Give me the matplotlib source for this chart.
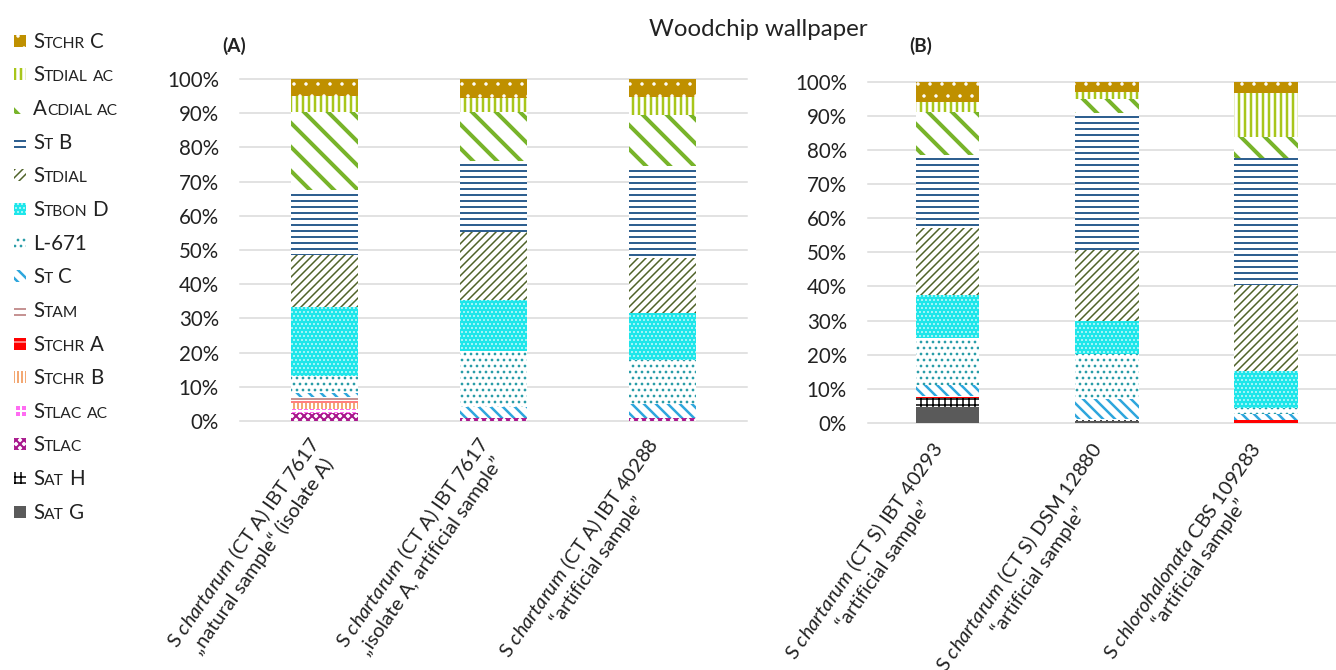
import numpy as np
import matplotlib
matplotlib.use('Agg')
import matplotlib.pyplot as plt
from matplotlib.patches import Rectangle

plt.rcParams['font.family'] = ['Lato', 'DejaVu Sans']
plt.rcParams['mathtext.fontset'] = 'custom'
plt.rcParams['mathtext.rm'] = 'Lato'
plt.rcParams['mathtext.it'] = 'Lato:italic'
plt.rcParams['text.color'] = '#222222'

################### data ##################
# stacking order, bottom to top
series = ['Sat G', 'Sat H', 'Stlac', 'Stlac ac', 'Stchr B', 'Stchr A', 'Stam',
          'St C', 'L-671', 'Stbon D', 'Stdial', 'St B', 'Acdial ac', 'Stdial ac', 'Stchr C']

samples_a = ['S $\\it{chartarum}$ (CT A) IBT 7617\n\u201enatural sample\u201c (isolate A)',
             'S $\\it{chartarum}$ (CT A) IBT 7617\n\u201eisolate A, artificial sample\u201d',
             'S $\\it{chartarum}$ (CT A) IBT 40288\n\u201cartificial sample\u201d']
samples_b = ['S $\\it{chartarum}$ (CT S) IBT 40293\n\u201cartificial sample\u201d',
             'S $\\it{chartarum}$ (CT S) DSM 12880\n\u201cartificial sample\u201d',
             'S $\\it{chlorohalonata}$ CBS 109283\n\u201cartificial sample\u201d']

# percent of total, one row per series (same order as series), one column per sample
values_a = np.array([
    [0.0, 0.0, 0.0],      # Sat G
    [0.0, 0.0, 0.0],      # Sat H
    [2.2, 0.8, 1.0],      # Stlac
    [1.2, 0.0, 0.0],      # Stlac ac
    [1.8, 0.0, 0.0],      # Stchr B
    [0.6, 0.0, 0.0],      # Stchr A
    [1.2, 0.0, 0.0],      # Stam
    [1.2, 3.4, 3.9],      # St C
    [4.9, 16.4, 12.9],    # L-671
    [20.2, 14.8, 13.8],   # Stbon D
    [15.3, 20.0, 16.1],   # Stdial
    [19.0, 20.7, 26.9],   # St B
    [22.7, 14.3, 14.9],   # Acdial ac
    [4.6, 3.9, 5.2],      # Stdial ac
    [5.1, 5.7, 5.3],      # Stchr C
])
values_b = np.array([
    [4.6, 0.5, 0.0],      # Sat G
    [2.6, 0.3, 0.0],      # Sat H
    [0.0, 0.0, 0.0],      # Stlac
    [0.0, 0.0, 0.0],      # Stlac ac
    [0.0, 0.0, 0.0],      # Stchr B
    [0.4, 0.0, 1.0],      # Stchr A
    [0.3, 0.5, 0.0],      # Stam
    [3.2, 5.6, 1.6],      # St C
    [13.9, 13.3, 1.7],    # L-671
    [12.5, 9.6, 11.0],    # Stbon D
    [19.7, 21.0, 25.1],   # Stdial
    [21.3, 40.1, 37.1],   # St B
    [12.7, 4.0, 6.2],     # Acdial ac
    [2.9, 2.1, 12.8],     # Stdial ac
    [5.9, 3.0, 3.5],      # Stchr C
])

# face colour, hatch, hatch colour, hatch width
styles = {
    'Sat G':     ('#5A5A5A', None, '#5A5A5A', 1.0),
    'Sat H':     ('white', '++', 'black', 1.5),
    'Stlac':     ('white', 'xxx', '#A8168C', 2.0),
    'Stlac ac':  ('#FF6CF2', '++', 'white', 2.0),
    'Stchr B':   ('white', '|||', '#F08C45', 1.5),
    'Stchr A':   ('#FF0000', '-', 'white', 1.0),
    'Stam':      ('white', '--', '#8E2B2B', 1.0),
    'St C':      ('white', '\\\\', '#2EA6DD', 2.5),
    'L-671':     ('white', '..', '#2A9DA8', 1.5),
    'Stbon D':   ('#1EE6EA', '...', 'white', 0.8),
    'Stdial':    ('white', '///', '#4F6228', 1.5),
    'St B':      ('white', '--', '#2F6090', 2.0),
    'Acdial ac': ('white', '\\', '#78B42A', 4.0),
    'Stdial ac': ('white', '||', '#A8C61A', 2.5),
    'Stchr C':   ('#BF9000', '.', 'white', 1.0),
}

W, H, DPI = 1336, 670, 72
fig = plt.figure(figsize=(W / DPI, H / DPI), dpi=DPI)


def styled_patch(name):
    face, hatch, hc, hlw = styles[name]
    return dict(facecolor=face, edgecolor=hc if hatch else face, linewidth=0, hatch=hatch), hlw


def stack(ax, values, labels, xlim, pad):
    x = np.arange(values.shape[1])
    bottom = np.zeros(values.shape[1])
    for name, row in zip(series, values):
        kw, hlw = styled_patch(name)
        with plt.rc_context({'hatch.linewidth': hlw}):
            bars = ax.bar(x, row, 0.4, bottom=bottom, zorder=2, **kw)
        for b in bars:
            if hasattr(b, 'set_hatch_linewidth'):
                b.set_hatch_linewidth(hlw)
        bottom += row

    ax.set_xlim(*xlim)
    ax.set_ylim(0, 100)
    ax.set_yticks(np.arange(0, 101, 10))
    ax.set_yticklabels(['%d%%' % v for v in range(0, 101, 10)])
    ax.yaxis.grid(True, color='#D9D9D9', linewidth=1.5)
    for line in ax.get_ygridlines():
        line.set_clip_on(False)
    ax.set_axisbelow(True)
    for s in ax.spines.values():
        s.set_visible(False)
    ax.tick_params(axis='y', length=0, labelsize=20.5, pad=21, labelcolor='#222222')
    ax.set_xticks(x)
    ax.set_xticklabels(labels, rotation=55, ha='right', va='center',
                       rotation_mode='anchor', multialignment='center', fontsize=20)
    ax.tick_params(axis='x', length=0, pad=pad, labelcolor='#222222')


ax_a = fig.add_axes([240 / W, 1 - 421 / H, 507 / W, 342 / H])
stack(ax_a, values_a, samples_a, (-0.5, 2.5), 25)

ax_b = fig.add_axes([868 / W, 1 - 423 / H, 468 / W, 341.5 / H])
stack(ax_b, values_b, samples_b, (-0.5, 2.44), 28)

################### titles ##################
fig.text(758 / W, 1 - 29 / H, 'Woodchip wallpaper', ha='center', va='center', fontsize=24)
fig.text(234 / W, 1 - 46 / H, '(A)', ha='center', va='center', fontsize=19, fontweight='bold')
fig.text(921 / W, 1 - 46 / H, '(B)', ha='center', va='center', fontsize=19, fontweight='bold')

################### legend (pixel coordinates, small caps) ##################
lax = fig.add_axes([0, 0, 1, 1])
lax.set_xlim(0, W)
lax.set_ylim(H, 0)
lax.axis('off')
renderer = fig.canvas.get_renderer()


def small_caps(ax, x, y, label, size):
    runs = []
    for ch in label:
        kind = 'space' if ch == ' ' else ('small' if ch.islower() else 'big')
        if runs and runs[-1][0] == kind:
            runs[-1][1] += ch
        else:
            runs.append([kind, ch])
    for kind, chunk in runs:
        if kind == 'space':
            x += 0.24 * size * len(chunk)
            continue
        fs = size * 0.76 if kind == 'small' else size
        t = ax.text(x, y, chunk.upper(), fontsize=fs, va='baseline', ha='left', color='#222222')
        x += t.get_window_extent(renderer).width


for i, name in enumerate(series[::-1]):
    yc = 40.7 + 33.65 * i
    kw, hlw = styled_patch(name)
    with plt.rc_context({'hatch.linewidth': hlw}):
        r = Rectangle((14, yc - 6), 12, 12, **kw)
    if hasattr(r, 'set_hatch_linewidth'):
        r.set_hatch_linewidth(hlw)
    lax.add_patch(r)
    small_caps(lax, 33, yc + 7, name, 20.5)

fig.savefig('out.png', dpi=DPI)
